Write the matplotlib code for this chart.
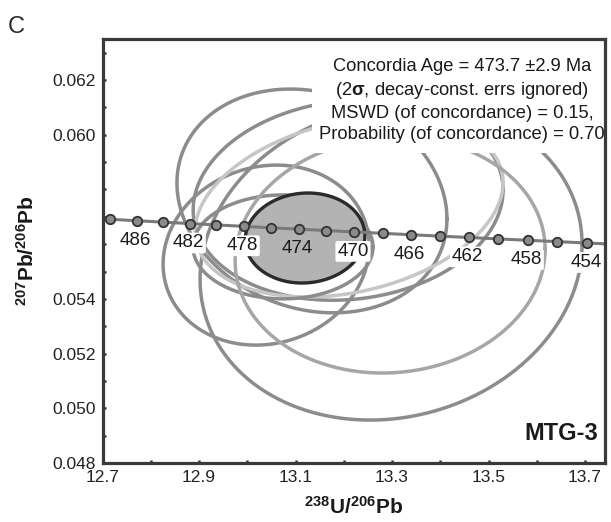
import numpy as np
import matplotlib
matplotlib.use("Agg")
import matplotlib.pyplot as plt
import matplotlib.patches as mpatches

plt.rcParams['font.family'] = ['Liberation Sans', 'DejaVu Sans']
plt.rcParams['mathtext.fontset'] = 'custom'
plt.rcParams['mathtext.rm'] = 'Liberation Sans'
plt.rcParams['mathtext.bf'] = 'Liberation Sans:bold'
plt.rcParams['mathtext.default'] = 'regular'

# concordia curve (Tera-Wasserburg), ages in Ma
conc_age = [490, 488, 486, 484, 482, 480, 478, 476, 474, 472,
            470, 468, 466, 464, 462, 460, 458, 456, 454, 452]
conc_x = [12.6623, 12.7162, 12.7705, 12.8253, 12.8805, 12.9362, 12.9924, 13.0490, 13.1062, 13.1638,
          13.2219, 13.2804, 13.3395, 13.3991, 13.4593, 13.5199, 13.5811, 13.6428, 13.7050, 13.7678]
conc_y = [0.056960, 0.056909, 0.056857, 0.056806, 0.056754, 0.056703, 0.056652, 0.056600, 0.056549, 0.056498,
          0.056447, 0.056396, 0.056345, 0.056294, 0.056244, 0.056193, 0.056142, 0.056092, 0.056041, 0.055991]
label_ages = [486, 482, 478, 474, 470, 466, 462, 458, 454]

# analysis error ellipses: centre, half-widths (2 sigma), correlation
ell_cx = [13.039, 13.134, 13.209, 13.298, 13.211, 13.074, 13.296]
ell_cy = [0.05560, 0.05758, 0.05761, 0.05535, 0.05736, 0.05590, 0.05560]
ell_sx = [0.2135, 0.2798, 0.3212, 0.3959, 0.3192, 0.1865, 0.3212]
ell_sy = [0.00329, 0.00409, 0.00366, 0.00578, 0.00329, 0.00190, 0.00431]
ell_rho = [0.10, -0.16, 0.10, 0.11, 0.27, 0.0, 0.05]
ell_col = ['#8c8c8c', '#8c8c8c', '#8c8c8c', '#8c8c8c', '#c6c6c6', '#8c8c8c', '#a6a6a6']

# concordia age ellipse
age_cx, age_cy, age_sx, age_sy, age_rho = 13.1197, 0.056225, 0.1240, 0.001645, 0.05

yticks = [0.048, 0.050, 0.052, 0.054, 0.056, 0.058, 0.060, 0.062]
ytick_labels = ['0.048', '0.050', '0.052', '0.054', '', '', '0.060', '0.062']
xticks = [12.7, 12.9, 13.1, 13.3, 13.5, 13.7]

info_text = ('Concordia Age = 473.7 \u00b12.9 Ma\n'
             '(2$\\mathbf{\\sigma}$, decay-const. errs ignored)\n'
             'MSWD (of concordance) = 0.15,\n'
             'Probability (of concordance) = 0.70')


def ellipse_pts(cx, cy, sx, sy, rho, n=300):
    t = np.linspace(0, 2 * np.pi, n)
    x = cx + sx * np.cos(t)
    y = cy + sy * (rho * np.cos(t) + np.sqrt(1 - rho ** 2) * np.sin(t))
    return x, y


fig = plt.figure(figsize=(6.11, 5.22), dpi=100)
ax = fig.add_axes((0.1678, 0.113, 0.8224, 0.8123))

for i in range(len(ell_cx)):
    ex, ey = ellipse_pts(ell_cx[i], ell_cy[i], ell_sx[i], ell_sy[i], ell_rho[i])
    ax.plot(ex, ey, color=ell_col[i], lw=2.5, zorder=2)

ex, ey = ellipse_pts(age_cx, age_cy, age_sx, age_sy, age_rho)
ax.fill(ex, ey, facecolor='#b3b3b3', edgecolor='#2b2b2b', lw=2.4, zorder=3)

ax.plot(conc_x, conc_y, color='#7a7a7a', lw=2.2, zorder=4)
dot_x = [x for a, x in zip(conc_age, conc_x) if 454 <= a <= 488]
dot_y = [y for a, y in zip(conc_age, conc_y) if 454 <= a <= 488]
ax.plot(dot_x, dot_y, 'o', ms=6.8, mfc='#8a8a8a', mec='#333333', mew=1.3, zorder=5)

for a in label_ages:
    i = conc_age.index(a)
    box = None
    if a != 474:
        box = dict(boxstyle='round,pad=0.1', fc='white', ec='none')
    ax.annotate(str(a), (conc_x[i], conc_y[i]), xytext=(-1, -14), textcoords='offset points',
                ha='center', va='center', fontsize=13.5, color='#1a1a1a', bbox=box, zorder=6)

# white panel behind the result text
ax.add_patch(mpatches.Rectangle((0.417, 0.731), 0.583, 0.269, transform=ax.transAxes,
                                facecolor='white', edgecolor='none', zorder=7))
ax.text(0.7154, 0.854, info_text, transform=ax.transAxes, ha='center', va='center',
        multialignment='center', fontsize=13.2, linespacing=1.32, color='#1a1a1a', zorder=8)
ax.text(0.986, 0.054, 'MTG-3', transform=ax.transAxes, ha='right', va='baseline',
        fontsize=17, fontweight='bold', color='#1a1a1a', zorder=8)

ax.set_xlim(12.7, 13.7414)
ax.set_ylim(0.048, 0.0635)
ax.set_xticks(xticks)
ax.set_xticklabels([f'{v:.1f}' for v in xticks])
ax.set_xticks(np.arange(12.8, 13.75, 0.2), minor=True)
ax.set_yticks(yticks)
ax.set_yticklabels(ytick_labels)
ax.set_yticks(np.arange(0.049, 0.0635, 0.002), minor=True)
ax.tick_params(which='both', direction='in', length=2.5, width=1.8, color='#333333',
               labelsize=12.5, labelcolor='#222222', pad=5)
for s in ax.spines.values():
    s.set_linewidth(2.3)
    s.set_color('#3a3a3a')
    s.set_zorder(10)

ax.set_xlabel('$^{238}$U/$^{206}$Pb', fontsize=15, fontweight='bold', color='#1a1a1a', labelpad=8)
ax.set_ylabel('$^{207}$Pb/$^{206}$Pb', fontsize=15, fontweight='bold', color='#1a1a1a', labelpad=10)
fig.text(0.013, 0.937, 'C', fontsize=17, color='#2a2a2a')

fig.savefig('out.png', dpi=100)
